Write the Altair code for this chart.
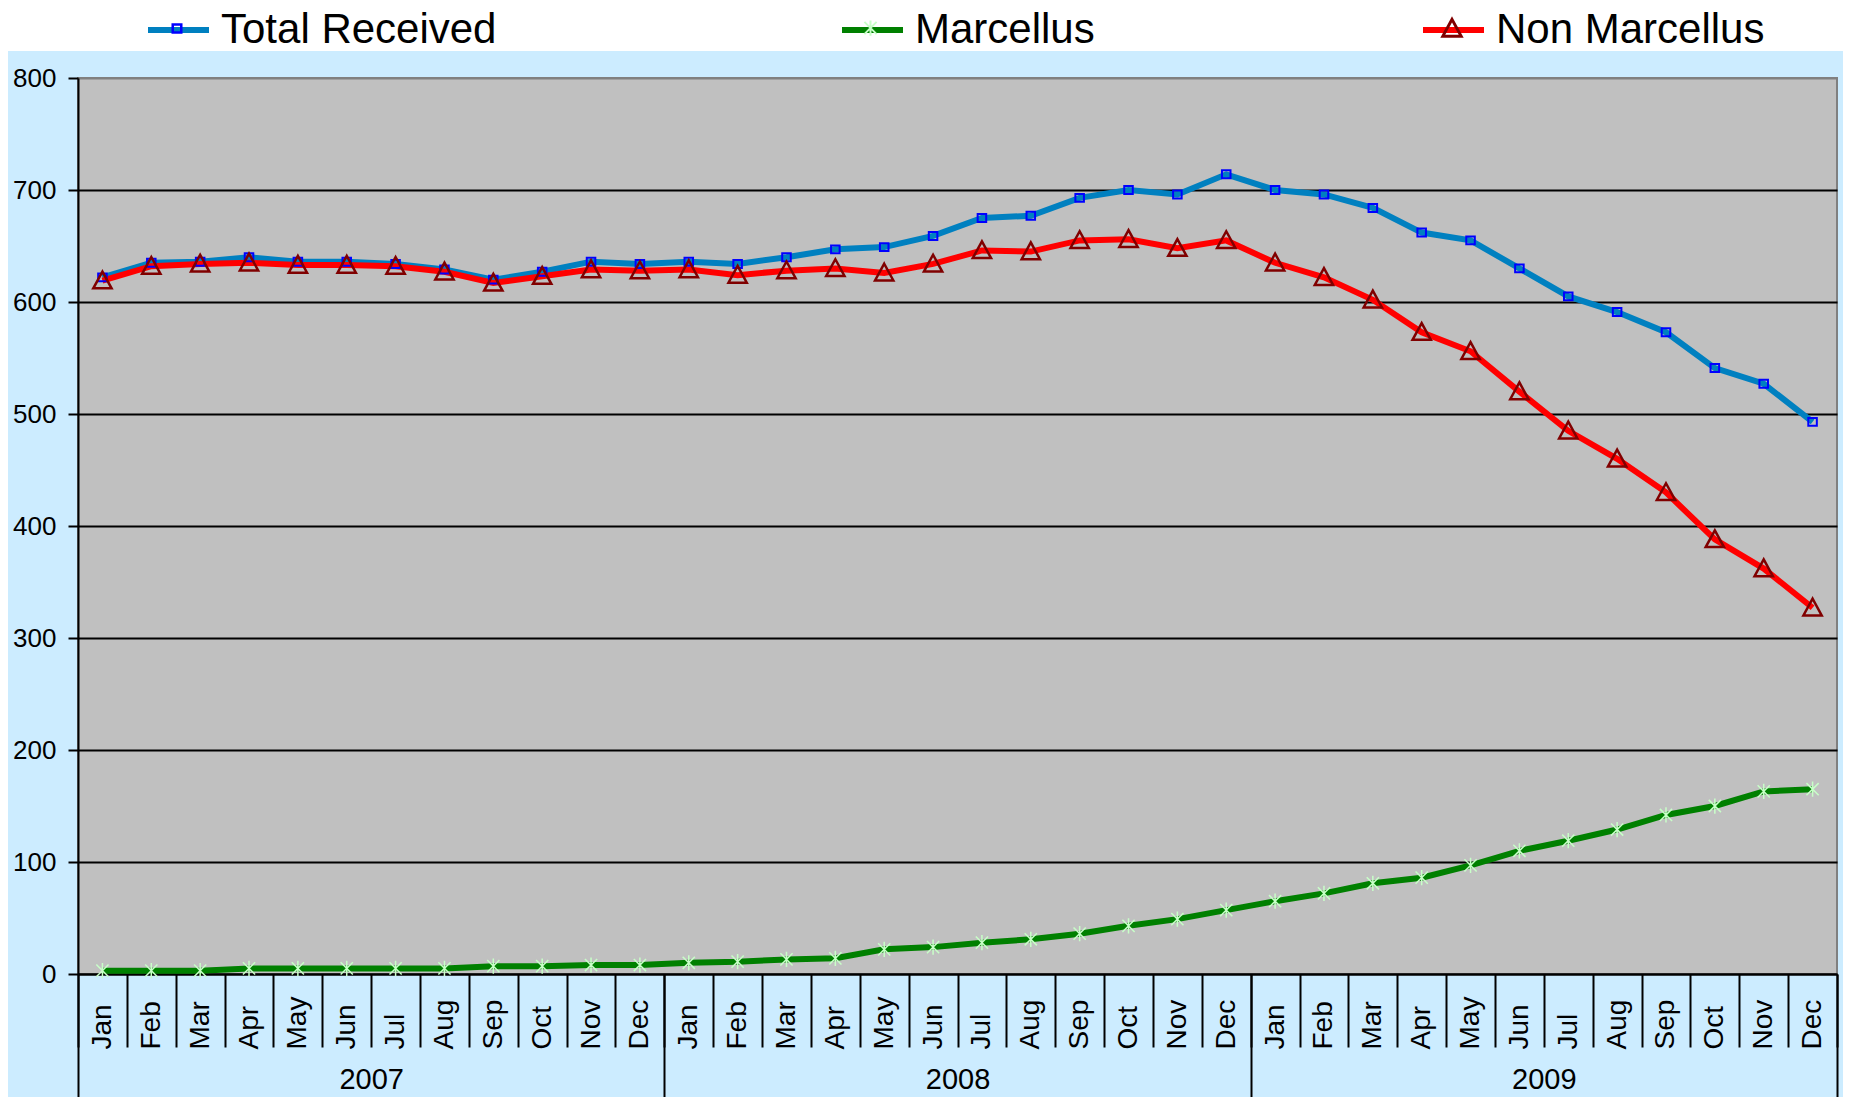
import altair as alt
import pandas as pd
import json

months = ["Jan", "Feb", "Mar", "Apr", "May", "Jun", "Jul", "Aug", "Sep", "Oct", "Nov", "Dec"]
years = [2007, 2008, 2009]
series_names = ["Total Received", "Marcellus", "Non Marcellus"]

total_received = [622, 635, 636, 640, 636, 636, 634, 629, 620, 627, 636, 634,
                  636, 634, 640, 647, 649, 659, 675, 677, 693, 700, 696, 714,
                  700, 696, 684, 662, 655, 630, 605, 591, 573, 541, 527, 493]
marcellus = [3, 3, 3, 5, 5, 5, 5, 5, 7, 7, 8, 8,
             10, 11, 13, 14, 22, 24, 28, 31, 36, 43, 49, 57,
             65, 72, 81, 86, 97, 110, 119, 129, 142, 150, 163, 165]
non_marcellus = [619, 632, 634, 635, 633, 633, 632, 627, 617, 623, 629, 628,
                 629, 624, 628, 630, 626, 634, 646, 645, 655, 656, 648, 655,
                 635, 622, 602, 573, 556, 520, 485, 460, 430, 388, 362, 327]

line_colors = ["#0080C0", "#008000", "#FF0000"]
marker_colors = ["#0000FF", "#C8FFC8", "#800000"]
marker_widths = [2, 1.5, 2.5]
marker_paths = [
    "M-0.14,-0.13H0.14V0.13H-0.14Z",
    "M-0.2,-0.2L0.2,0.2M-0.2,0.2L0.2,-0.2M0,-0.25L0,0.25",
    "M0,-0.3L0.3,0.25L-0.3,0.25Z",
]
legend_x = [67, 761, 1342]   # legend entry left edges, relative to the plot's left edge

rows = []
for s, vals in zip(series_names, [total_received, marcellus, non_marcellus]):
    for i, v in enumerate(vals):
        rows.append({"idx": i, "series": s, "value": v})
df = pd.DataFrame(rows)

FONT = "Liberation Sans"
W, H = 1759, 896
PAD_L, PAD_T, PAD_R, PAD_B = 70, 70, 6, 123
n = len(total_received)

xscale = alt.Scale(domain=[-0.5, n - 0.5], nice=False, zero=False)
yscale = alt.Scale(domain=[0, 800], nice=False)

month_expr = json.dumps(months) + "[datum.value % 12]"
year_expr = json.dumps(years) + "[floor(datum.value / 12)]"

month_axis = alt.Axis(orient="bottom", values=list(range(n)), labelExpr=month_expr,
                      ticks=False, grid=False, domain=True, domainColor="black", domainWidth=2,
                      labelAngle=270, labelAlign="left", labelBaseline="middle", labelPadding=75,
                      labelFont=FONT, labelFontSize=28, labelColor="black", title=None,
                      labelFlush=False, labelOverlap=False)
sep_axis = alt.Axis(orient="bottom", values=[i - 0.5 for i in range(n + 1)], ticks=True,
                    tickSize=73, tickWidth=2, tickColor="black", labels=False, domain=False,
                    grid=False, title=None)
year_sep_axis = alt.Axis(orient="bottom", values=[12 * k - 0.5 for k in range(len(years) + 1)],
                         ticks=True, tickSize=140, tickWidth=2, tickColor="black", labels=False,
                         domain=False, grid=False, title=None)
year_axis = alt.Axis(orient="bottom", values=[12 * k + 5.5 for k in range(len(years))],
                     labelExpr=year_expr, ticks=False, domain=False, grid=False, title=None,
                     labelAngle=0, labelAlign="center", labelBaseline="middle", labelPadding=105,
                     labelFont=FONT, labelFontSize=29, labelColor="black",
                     labelFlush=False, labelOverlap=False)
y_axis = alt.Axis(values=list(range(0, 801, 100)), grid=True,
                  gridColor={"condition": {"test": "datum.value >= 800", "value": "#808080"}, "value": "black"},
                  gridWidth=2, tickSize=10, tickWidth=2, tickColor="black", domainColor="black",
                  domainWidth=2, labelFont=FONT, labelFontSize=26, labelPadding=12,
                  labelColor="black", title=None)

SYM = 3721
LEG_Y = -81.5


def leg(x, **kw):
    return alt.Legend(orient="none", direction="horizontal", legendX=x, legendY=LEG_Y, title=None,
                      symbolSize=SYM, labelFont=FONT, labelFontSize=42, labelOffset=9,
                      padding=0, zindex=1, labelLimit=600, labelColor="black", **kw)


band = alt.Chart(pd.DataFrame({"a": [0]})).mark_rect(color="white").encode(
    x=alt.value(-PAD_L), x2=alt.value(W + PAD_R), y=alt.value(-PAD_T), y2=alt.value(-27))

sep = alt.Chart(df).mark_point(opacity=0).encode(x=alt.X("idx:Q", scale=xscale, axis=sep_axis))
ysep = alt.Chart(df).mark_point(opacity=0).encode(x=alt.X("idx:Q", scale=xscale, axis=year_sep_axis))
ylab = alt.Chart(df).mark_point(opacity=0).encode(x=alt.X("idx:Q", scale=xscale, axis=year_axis))

line_layers = []
point_layers = []
for k, s in enumerate(series_names):
    sub = df[df["series"] == s]
    line_layers.append(alt.Chart(sub).mark_line(strokeWidth=6).encode(
        x=alt.X("idx:Q", scale=xscale, axis=month_axis if k == 0 else None),
        y=alt.Y("value:Q", scale=yscale, axis=y_axis),
        color=alt.Color("series:N", scale=alt.Scale(domain=[s], range=[line_colors[k]]),
                        legend=leg(legend_x[k], symbolType="stroke", symbolStrokeWidth=6)),
    ))
    key = "marker_" + str(k)
    point_layers.append(alt.Chart(sub).transform_calculate(**{key: "datum.series"}).mark_point(
        filled=False, size=SYM, opacity=1, strokeWidth=marker_widths[k]).encode(
        x=alt.X("idx:Q", scale=xscale, axis=None),
        y=alt.Y("value:Q", scale=yscale, axis=y_axis),
        color=alt.Color(key + ":N", scale=alt.Scale(domain=[s], range=[marker_colors[k]]),
                        legend=leg(legend_x[k], symbolStrokeWidth=marker_widths[k] + 0.5,
                                   labelOpacity=0)),
        shape=alt.Shape(key + ":N", scale=alt.Scale(domain=[s], range=[marker_paths[k]]),
                        legend=leg(legend_x[k], symbolStrokeWidth=marker_widths[k] + 0.5,
                                   labelOpacity=0)),
    ))

chart = alt.layer(band, sep, ysep, ylab, *line_layers, *point_layers).resolve_scale(
    color="independent", shape="independent"
).resolve_axis(x="independent").properties(
    width=W, height=H, background="#CCECFF",
    autosize=alt.AutoSizeParams(type="none"),
    padding={"left": PAD_L, "top": PAD_T, "right": PAD_R, "bottom": PAD_B},
).configure_view(stroke="#808080", strokeWidth=2, fill="#C0C0C0")

chart.save("out.html", embed_options={"renderer": "svg", "actions": False})
